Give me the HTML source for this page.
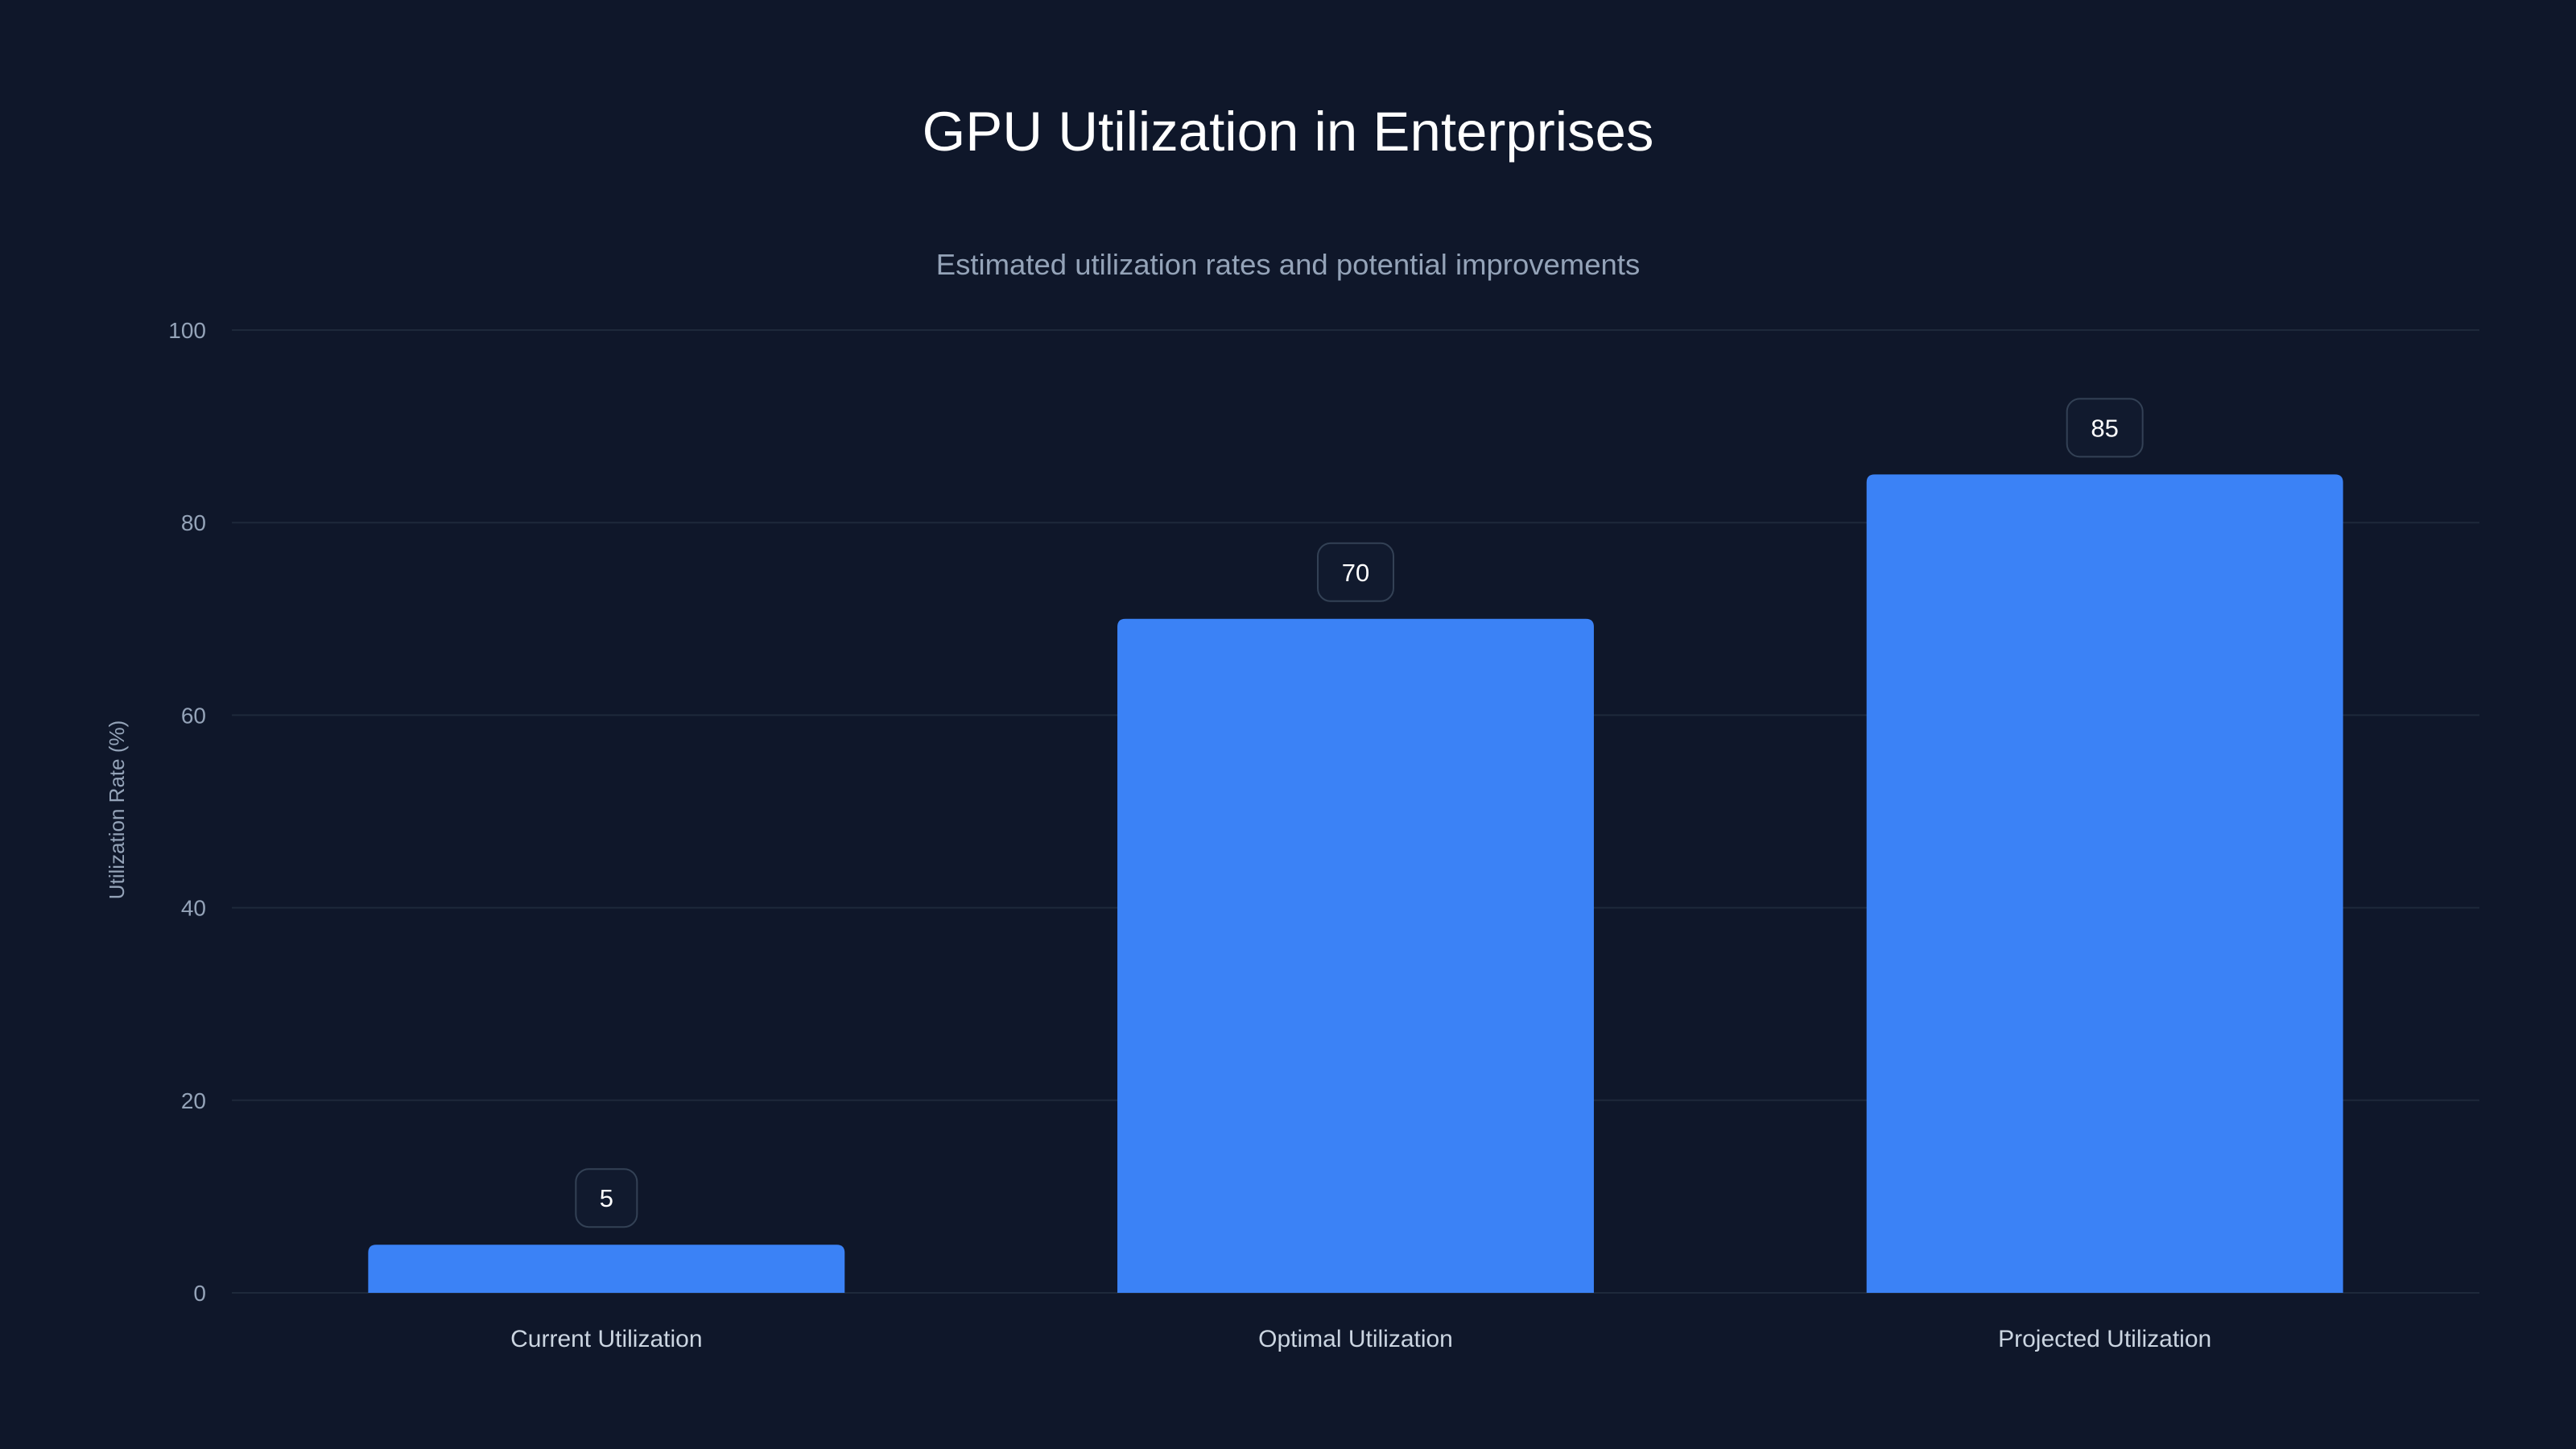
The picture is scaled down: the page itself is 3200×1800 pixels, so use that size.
<!DOCTYPE html>
<html>
<head>
<meta charset="utf-8">
<style>
html,body{margin:0;padding:0;background:#0f172a;}
svg{display:block;font-family:"Liberation Sans",sans-serif;}
</style>
</head>
<body>
<svg id="chart" width="3200" height="1800" viewBox="0 0 3200 1800" xmlns="http://www.w3.org/2000/svg">
<rect x="0" y="0" width="3200" height="1800" fill="#0f172a"/>
<text x="1600" y="187" text-anchor="middle" fill="#ffffff" font-size="69">GPU Utilization in Enterprises</text>
<text x="1600" y="341" text-anchor="middle" fill="#94a3b8" font-size="36.5">Estimated utilization rates and potential improvements</text>
<text x="0" y="0" transform="translate(154,1006) rotate(-90)" text-anchor="middle" fill="#94a3b8" font-size="26">Utilization Rate (%)</text>
<g id="grid"></g>
<g id="bars"></g>
</svg>
<script>
const categories = ["Current Utilization", "Optimal Utilization", "Projected Utilization"];
const values = [5, 70, 85];
const yTicks = [0, 20, 40, 60, 80, 100];

const svgNS = "http://www.w3.org/2000/svg";
const plotL = 288, plotR = 3080, plotTop = 410, plotBot = 1606;
const yMax = 100;
function y(v){ return plotBot - (v / yMax) * (plotBot - plotTop); }
const band = (plotR - plotL) / categories.length;
function xc(i){ return plotL + band * (i + 0.5); }
const barW = band * 0.636;

const grid = document.getElementById('grid');
yTicks.forEach(t => {
  const l = document.createElementNS(svgNS, 'line');
  
  
  l.setAttribute('x1', plotL); l.setAttribute('x2', plotR);
  l.setAttribute('y1', y(t)); l.setAttribute('y2', y(t));
  l.setAttribute('stroke', '#1e293b'); l.setAttribute('stroke-width', '2');
  grid.appendChild(l);
  const tx = document.createElementNS(svgNS, 'text');
  
  
  tx.setAttribute('x', 256); tx.setAttribute('y', y(t) + 10);
  tx.setAttribute('text-anchor', 'end'); tx.setAttribute('fill', '#94a3b8');
  tx.setAttribute('font-size', '28');
  tx.textContent = t;
  grid.appendChild(tx);
});

const bars = document.getElementById('bars');
values.forEach((v, i) => {
  const x0 = xc(i) - barW / 2, top = y(v), h = plotBot - top, r = Math.min(10, h);
  const p = document.createElementNS(svgNS, 'path');
  
  
  p.setAttribute('d', `M${x0},${plotBot} V${top + r} Q${x0},${top} ${x0 + r},${top} H${x0 + barW - r} Q${x0 + barW},${top} ${x0 + barW},${top + r} V${plotBot} Z`);
  p.setAttribute('fill', '#3b82f6');
  bars.appendChild(p);

  const label = String(v);
  const bw = label.length > 1 ? 94 : 76, bh = 72;
  const by = top - 22 - bh;
  const box = document.createElementNS(svgNS, 'rect');
  
  
  box.setAttribute('x', xc(i) - bw / 2); box.setAttribute('y', by);
  box.setAttribute('width', bw); box.setAttribute('height', bh);
  box.setAttribute('rx', 16);
  box.setAttribute('fill', '#111a2e'); box.setAttribute('stroke', '#334155'); box.setAttribute('stroke-width', '2');
  bars.appendChild(box);
  const vt = document.createElementNS(svgNS, 'text');
  
  
  vt.setAttribute('x', xc(i)); vt.setAttribute('y', by + bh / 2 + 11);
  vt.setAttribute('text-anchor', 'middle'); vt.setAttribute('fill', '#ffffff');
  vt.setAttribute('font-size', '31');
  vt.textContent = label;
  bars.appendChild(vt);

  const ct = document.createElementNS(svgNS, 'text');
  
  
  ct.setAttribute('x', xc(i)); ct.setAttribute('y', 1673);
  ct.setAttribute('text-anchor', 'middle'); ct.setAttribute('fill', '#cbd5e1');
  ct.setAttribute('font-size', '30');
  ct.textContent = categories[i];
  bars.appendChild(ct);
});
</script>
</body>
</html>
